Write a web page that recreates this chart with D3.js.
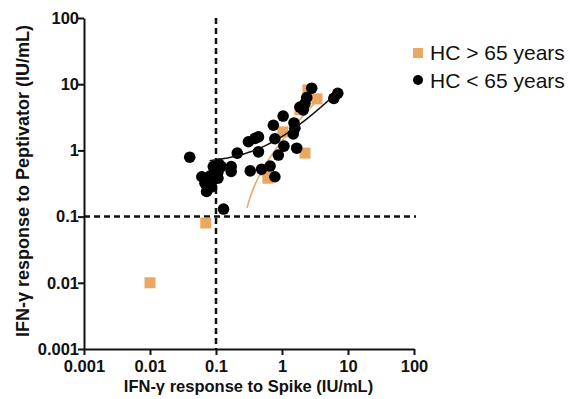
<!DOCTYPE html>
<html>
<head>
<meta charset="utf-8">
<script src="https://cdn.jsdelivr.net/npm/d3@7"></script>
<style>
body{margin:0;background:#fff;}
svg text{font-family:"Liberation Sans",Arial,sans-serif;}
</style>
</head>
<body>
<svg id="chart" width="570" height="399"></svg>
<script>
// HC > 65 years (orange squares), [spike, peptivator]
const oldSpike = [0.01, 0.07, 0.61, 0.55, 1.03, 2.23, 1.87, 2.47, 3.39];
const oldPept  = [0.01, 0.08, 0.38, 0.50, 1.9, 0.91, 4.1, 8.2, 6.0];
// HC < 65 years (black dots)
const youngSpike = [0.04,0.061,0.068,0.072,0.086,0.097,0.10,0.12,0.091,0.107,0.13,0.17,0.17,0.21,0.31,0.39,0.44,0.44,0.33,0.49,0.66,0.78,0.74,0.78,1.04,0.88,1.07,1.48,1.57,1.52,1.67,2.1,2.23,2.37,2.82,6.1,7.0,1.87,0.111,0.081,0.107,0.078];
const youngPept  = [0.79,0.40,0.32,0.24,0.28,0.45,0.54,0.57,0.57,0.38,0.13,0.57,0.48,0.91,1.35,1.52,1.6,0.95,0.49,0.52,0.58,0.40,2.4,1.5,3.3,0.85,1.16,1.77,2.16,2.6,1.08,4.1,5.1,6.3,8.7,6.1,7.3,4.5,0.62,0.41,0.47,0.345];
// linear fits y = a + b*x, and their x range
const oldFit = [-0.39, 1.78], oldFitRange = [0.295, 3.4];
const youngFit = [0.62, 1.0], youngFitRange = [0.08, 7.0];
const ticks = [0.001, 0.01, 0.1, 1, 10, 100];
const cutoff = 0.1;

const orange = "#E9A761";
const svg = d3.select("#chart");
const x = d3.scaleLog().domain([0.001,100]).range([84,414]);
const y = d3.scaleLog().domain([0.001,100]).range([349,18]);

// dashed cutoffs
svg.append("line").attr("x1",x(cutoff)).attr("x2",x(cutoff)).attr("y1",y(100)).attr("y2",y(0.001))
  .attr("stroke","#111").attr("stroke-width",2.5).attr("stroke-dasharray","6,4");
svg.append("line").attr("x1",x(0.001)).attr("x2",x(100)+2).attr("y1",y(cutoff)).attr("y2",y(cutoff))
  .attr("stroke","#111").attr("stroke-width",2.5).attr("stroke-dasharray","6,4");

// axes
const fmt = d => String(d);
const xAxis = svg.append("g").attr("transform","translate(0,349)")
  .call(d3.axisBottom(x).tickValues(ticks).tickFormat(fmt).tickSize(6).tickSizeOuter(0));
const yAxis = svg.append("g").attr("transform","translate(84,0)")
  .call(d3.axisLeft(y).tickValues(ticks).tickFormat(fmt).tickSize(6).tickSizeOuter(0));
[xAxis,yAxis].forEach(g=>{
  g.select(".domain").attr("stroke","#111").attr("stroke-width",2);
  g.selectAll(".tick line").attr("stroke","#111").attr("stroke-width",2);
  g.selectAll(".tick text").attr("fill","#111").attr("font-size",16.5).attr("font-weight","bold")
    .attr("font-family","Liberation Sans, Arial, sans-serif");
});
xAxis.selectAll(".tick text").attr("dy","0.95em").attr("y",7);
yAxis.selectAll(".tick text").attr("x",-5);

// titles
svg.append("text").attr("x",x(0.3)+1).attr("y",392).attr("text-anchor","middle")
  .attr("font-size",16.5).attr("font-weight","bold").attr("fill","#111")
  .text("IFN-γ response to Spike (IU/mL)");
svg.append("text").attr("transform","translate(29,181) rotate(-90)").attr("text-anchor","middle")
  .attr("font-size",18).attr("font-weight","bold").attr("fill","#111")
  .text("IFN-γ response to Peptivator (IU/mL)");

// orange squares
const oldData = oldSpike.map((d,i)=>[d,oldPept[i]]);
const youngData = youngSpike.map((d,i)=>[d,youngPept[i]]);
const sq = 11;
svg.append("g").selectAll("rect").data(oldData).join("rect")
  .attr("x",d=>x(d[0])-sq/2).attr("y",d=>y(d[1])-sq/2).attr("width",sq).attr("height",sq)
  .attr("fill",orange);

// fit lines
function fitPoints(fit, range){
  const lx = d3.scaleLog().domain(range);
  return lx.ticks(200).concat(range).sort((a,b)=>a-b)
    .filter(v=>v>=range[0]&&v<=range[1])
    .map(v=>[v, fit[0]+fit[1]*v]).filter(p=>p[1]>0);
}
const line = d3.line().x(d=>x(d[0])).y(d=>y(d[1]));
svg.append("path").attr("d",line(fitPoints(oldFit,oldFitRange)))
  .attr("fill","none").attr("stroke",orange).attr("stroke-width",1.5);

// black dots
svg.append("g").selectAll("circle").data(youngData).join("circle")
  .attr("cx",d=>x(d[0])).attr("cy",d=>y(d[1])).attr("r",5.8).attr("fill","#000");

svg.append("path").attr("d",line(fitPoints(youngFit,youngFitRange)))
  .attr("fill","none").attr("stroke","#111").attr("stroke-width",1.5);

// legend
const legend = svg.append("g");
legend.append("rect").attr("x",413).attr("y",48).attr("width",10).attr("height",10).attr("fill",orange);
legend.append("circle").attr("cx",418).attr("cy",80).attr("r",5).attr("fill","#000");
legend.append("text").attr("x",430).attr("y",60).attr("font-size",21).attr("fill","#111").text("HC > 65 years");
legend.append("text").attr("x",430).attr("y",88).attr("font-size",21).attr("fill","#111").text("HC < 65 years");
</script>
</body>
</html>
